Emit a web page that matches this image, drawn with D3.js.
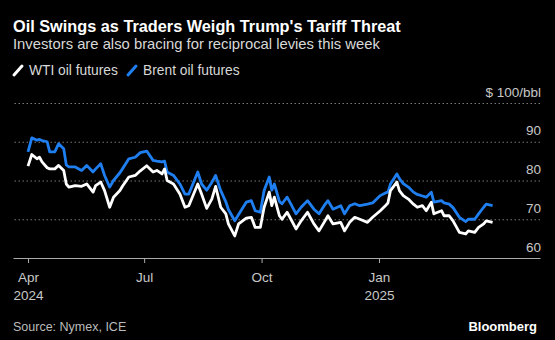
<!DOCTYPE html>
<html>
<head>
<meta charset="utf-8">
<script src="https://cdn.jsdelivr.net/npm/d3@7"></script>
<style>
  html, body { margin: 0; padding: 0; background: #000; }
  svg { display: block; font-family: "Liberation Sans", Arial, sans-serif; }
</style>
</head>
<body>
<div id="chart"></div>
<script>
// daily-ish readings of front-month futures, $/bbl
const dates = [
  "2024-04-01","2024-04-04","2024-04-08","2024-04-10","2024-04-12","2024-04-16","2024-04-18","2024-04-22","2024-04-25","2024-04-29",
  "2024-05-01","2024-05-03","2024-05-08","2024-05-13","2024-05-17","2024-05-22","2024-05-24","2024-05-28","2024-05-31","2024-06-04",
  "2024-06-07","2024-06-12","2024-06-14","2024-06-19","2024-06-24","2024-06-28","2024-07-03","2024-07-08","2024-07-11","2024-07-15",
  "2024-07-17","2024-07-19","2024-07-24","2024-07-29","2024-08-02","2024-08-05","2024-08-12","2024-08-15","2024-08-19","2024-08-23",
  "2024-08-26","2024-08-30","2024-09-03","2024-09-05","2024-09-10","2024-09-13","2024-09-19","2024-09-23","2024-09-26","2024-09-30",
  "2024-10-03","2024-10-07","2024-10-09","2024-10-11","2024-10-15","2024-10-17","2024-10-21","2024-10-24","2024-10-28","2024-11-01",
  "2024-11-06","2024-11-11","2024-11-15","2024-11-19","2024-11-22","2024-11-26","2024-12-02","2024-12-05","2024-12-09","2024-12-13",
  "2024-12-17","2024-12-23","2024-12-27","2025-01-02","2025-01-06","2025-01-08","2025-01-10","2025-01-15","2025-01-17","2025-01-20",
  "2025-01-24","2025-01-28","2025-01-31","2025-02-04","2025-02-07","2025-02-11","2025-02-13","2025-02-19","2025-02-21","2025-02-25",
  "2025-02-28","2025-03-05","2025-03-10","2025-03-12","2025-03-17","2025-03-20","2025-03-24","2025-03-26","2025-03-31"
];
const wti = [
  83.7,86.7,85.6,86.0,84.8,83.3,83.0,83.0,83.9,82.6,
  79.1,78.3,78.7,78.5,79.1,77.0,78.7,79.6,77.4,73.1,
  75.7,77.4,78.5,80.9,81.3,82.5,83.8,82.2,82.6,81.7,
  83.0,80.0,79.1,76.5,73.1,73.5,79.1,76.5,72.8,75.2,
  78.5,73.1,71.4,68.8,65.7,68.8,70.3,70.5,67.9,67.9,
  73.1,77.0,73.5,75.7,70.9,70.0,71.8,70.0,67.5,69.6,
  71.8,68.8,67.0,69.2,70.9,68.8,69.2,67.0,69.2,70.5,
  70.0,69.2,70.5,72.2,73.5,74.2,77.4,79.6,77.4,76.1,
  75.2,73.9,73.1,73.5,72.2,74.4,71.4,72.2,70.9,70.9,
  69.6,66.6,66.2,67.0,66.6,67.9,68.8,69.6,69.2
];
const brent = [
  87.4,91.0,90.4,90.6,90.3,90.0,87.4,87.4,89.5,88.2,
  84.0,83.5,83.5,82.6,83.9,82.2,83.0,84.3,81.3,78.3,
  80.0,82.0,83.0,85.6,86.0,87.2,87.6,85.2,85.0,84.8,
  85.0,82.2,81.3,79.1,76.5,76.5,82.2,79.1,77.5,79.5,
  81.3,77.4,74.5,72.5,69.6,71.2,74.4,74.8,72.2,71.8,
  77.4,80.9,77.5,79.1,74.6,74.0,75.7,73.9,71.4,73.1,
  74.8,72.6,71.4,73.5,74.8,72.6,73.5,71.4,73.5,74.0,
  73.5,73.9,74.2,76.1,76.8,77.0,79.1,81.7,80.5,79.2,
  78.3,77.0,76.4,76.0,75.7,77.0,74.4,74.8,74.2,73.9,
  73.0,70.5,69.4,70.0,70.0,71.4,73.1,73.9,73.5
];
const xTicks = ["2024-04-01","2024-07-01","2024-10-01","2025-01-01"];
const yTicks = [60, 70, 80, 90, 100];

const W = 555, H = 340;
const parse = d3.timeParse("%Y-%m-%d");
const left = 13, right = 540;

const svg = d3.select("#chart").append("svg")
  .attr("width", W).attr("height", H);

svg.append("rect").attr("width", W).attr("height", H).attr("fill", "#000");

// anchor scale on two month ticks, then stretch domain to the plot edges
let x = d3.scaleTime()
  .domain([parse("2024-04-01"), parse("2025-01-01")])
  .range([28, 379]);
x = x.copy().domain([x.invert(left), x.invert(right)]).range([left, right]);

const y = d3.scaleLinear().domain([60, 100]).range([258, 103]);

// titles
svg.append("text").attr("x", 13).attr("y", 32)
  .attr("fill", "#fff").attr("font-size", 16.3).attr("font-weight", "bold")
  .text("Oil Swings as Traders Weigh Trump's Tariff Threat");
svg.append("text").attr("x", 13).attr("y", 49)
  .attr("fill", "#d8d8d8").attr("font-size", 14.8)
  .text("Investors are also bracing for reciprocal levies this week");

// legend
const legend = [["WTI oil futures", "#fff", 13], ["Brent oil futures", "#1f7ff0", 127]];
legend.forEach(([label, col, lx]) => {
  svg.append("line").attr("x1", lx + 1).attr("y1", 75).attr("x2", lx + 9).attr("y2", 66)
    .attr("stroke", col).attr("stroke-width", 3).attr("stroke-linecap", "round");
  svg.append("text").attr("x", lx + 16).attr("y", 75)
    .attr("fill", "#d8d8d8").attr("font-size", 13.8).text(label);
});

// y grid + labels
const yAxis = svg.append("g")
  .attr("transform", `translate(${right},0)`)
  .call(d3.axisLeft(y).tickValues(yTicks).tickSize(right - left)
    .tickFormat(d => d === 100 ? "$ 100/bbl" : d));
yAxis.select(".domain").remove();
yAxis.selectAll(".tick line")
  .attr("stroke", d => d === 60 ? "none" : "#777")
  .attr("stroke-dasharray", "1.5,2.5");
yAxis.selectAll(".tick text")
  .attr("x", 1).attr("dy", -7).attr("text-anchor", "end")
  .attr("fill", "#c8c8c8").attr("font-size", 13.5)
  .attr("font-family", "Liberation Sans, Arial, sans-serif");

// x axis
const xAxis = svg.append("g")
  .attr("transform", `translate(0,${y(60)})`)
  .call(d3.axisBottom(x).tickValues(xTicks.map(parse)).tickSize(5).tickSizeOuter(0)
    .tickFormat(""));
xAxis.select(".domain").attr("stroke", "#aaa").attr("stroke-width", 1.2);
xAxis.selectAll(".tick line").attr("stroke", "#aaa");
xAxis.selectAll(".tick").each(function(d) {
  const t = d3.select(this).append("text")
    .attr("fill", "#c8c8c8").attr("font-size", 13.5).attr("text-anchor", "middle")
    .attr("font-family", "Liberation Sans, Arial, sans-serif");
  t.append("tspan").attr("x", 0).attr("y", 24).text(d3.timeFormat("%b")(d));
  if (d.getMonth() === 3 || d.getMonth() === 0) {
    t.append("tspan").attr("x", 0).attr("y", 42).text(d3.timeFormat("%Y")(d));
  }
});

// lines
const pts = dates.map((d, i) => ({ date: parse(d), wti: wti[i], brent: brent[i] }));
const line = key => d3.line().x(d => x(d.date)).y(d => y(d[key]));

svg.append("path").datum(pts).attr("d", line("brent"))
  .attr("fill", "none").attr("stroke", "#1f7ff0").attr("stroke-width", 2.8)
  .attr("stroke-linejoin", "round");
svg.append("path").datum(pts).attr("d", line("wti"))
  .attr("fill", "none").attr("stroke", "#fff").attr("stroke-width", 2.8)
  .attr("stroke-linejoin", "round");

// footer
svg.append("text").attr("x", 13).attr("y", 331)
  .attr("fill", "#bbb").attr("font-size", 12.5).text("Source: Nymex, ICE");
svg.append("text").attr("x", 537).attr("y", 331).attr("text-anchor", "end")
  .attr("fill", "#fff").attr("font-size", 13).attr("font-weight", "bold").text("Bloomberg");
</script>
</body>
</html>
